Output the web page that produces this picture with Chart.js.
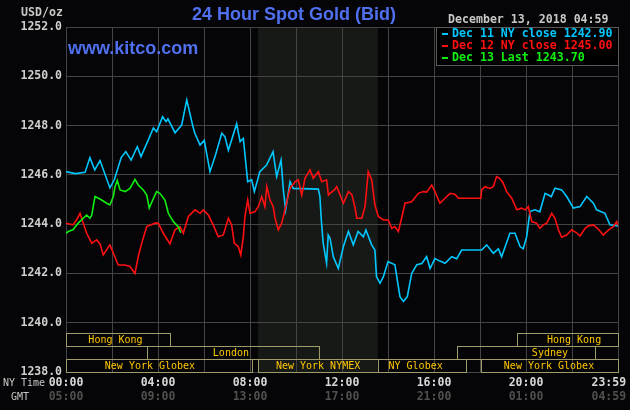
<!DOCTYPE html>
<html>
<head>
<meta charset="utf-8">
<script src="https://cdn.jsdelivr.net/npm/chart.js@4.4.0/dist/chart.umd.min.js"></script>
<style>
  html, body { margin: 0; padding: 0; background: #050406; }
  canvas { display: block; }
</style>
</head>
<body>
<canvas id="myChart" width="630" height="410"></canvas>
<script>
// prices, [hour (NY time), USD/oz]
var dec11 = [
  [0, 1246.13], [0.4, 1246.05], [0.83, 1246.1], [1.04, 1246.7], [1.25, 1246.2], [1.48, 1246.58],
  [1.91, 1245.47], [2.1, 1245.8], [2.4, 1246.7], [2.6, 1246.94], [2.83, 1246.6], [3.1, 1247.14],
  [3.26, 1246.74], [3.57, 1247.4], [3.8, 1247.9], [3.94, 1247.75], [4.2, 1248.36], [4.35, 1248.16],
  [4.43, 1248.27], [4.74, 1247.71], [5.03, 1248.02], [5.25, 1249.04], [5.52, 1247.96], [5.6, 1247.69],
  [5.83, 1247.21], [6.01, 1247.4], [6.26, 1246.13], [6.48, 1246.74], [6.77, 1247.69], [6.91, 1247.55],
  [7.06, 1247.0], [7.42, 1248.07], [7.57, 1247.35], [7.71, 1247.48], [7.9, 1245.72], [8.07, 1245.8],
  [8.19, 1245.32], [8.43, 1246.13], [8.72, 1246.4], [9.0, 1246.94], [9.16, 1245.93], [9.35, 1246.6],
  [9.45, 1245.39], [9.55, 1244.58], [9.74, 1245.72], [9.88, 1245.45], [10.97, 1245.42], [11.04, 1245.12],
  [11.1, 1244.17], [11.18, 1243.24], [11.33, 1242.42], [11.4, 1243.56], [11.48, 1243.43], [11.62, 1242.68],
  [11.84, 1242.2], [12.06, 1243.09], [12.28, 1243.7], [12.49, 1243.16], [12.7, 1243.7], [12.93, 1243.49],
  [13.04, 1243.76], [13.29, 1243.16], [13.43, 1242.95], [13.5, 1241.87], [13.65, 1241.6], [13.8, 1241.87],
  [14.0, 1242.48], [14.3, 1242.35], [14.52, 1241.06], [14.67, 1240.86], [14.84, 1241.06], [15.03, 1242.0],
  [15.25, 1242.35], [15.47, 1242.4], [15.68, 1242.68], [15.83, 1242.2], [16.04, 1242.6], [16.26, 1242.5],
  [16.48, 1242.41], [16.77, 1242.68], [16.99, 1242.6], [17.2, 1242.95], [18.07, 1242.95], [18.29, 1243.16],
  [18.58, 1242.82], [18.8, 1243.0], [18.94, 1242.68], [19.3, 1243.63], [19.52, 1243.63], [19.74, 1243.09],
  [19.88, 1243.0], [20.03, 1243.49], [20.17, 1244.51], [20.39, 1244.58], [20.6, 1244.5], [20.83, 1245.25],
  [21.1, 1245.12], [21.26, 1245.46], [21.55, 1245.39], [21.77, 1245.12], [22.06, 1244.65], [22.35, 1244.71],
  [22.64, 1245.12], [22.93, 1244.85], [23.07, 1244.58], [23.43, 1244.44], [23.65, 1243.97], [24, 1243.93]
];
var dec12 = [
  [0, 1244.04], [0.3, 1243.97], [0.46, 1244.17], [0.61, 1244.44], [0.75, 1244.04], [0.9, 1243.63],
  [1.12, 1243.22], [1.33, 1243.36], [1.48, 1243.2], [1.62, 1242.75], [1.91, 1243.16], [2.06, 1242.82],
  [2.27, 1242.34], [2.56, 1242.34], [2.78, 1242.28], [3.0, 1242.0], [3.14, 1242.68], [3.29, 1243.22],
  [3.51, 1243.9], [3.87, 1244.04], [4.01, 1244.04], [4.23, 1243.63], [4.52, 1243.2], [4.74, 1243.77],
  [4.96, 1243.9], [5.1, 1243.63], [5.32, 1244.31], [5.61, 1244.58], [5.83, 1244.44], [5.97, 1244.58],
  [6.19, 1244.37], [6.4, 1243.97], [6.62, 1243.49], [6.84, 1243.56], [7.06, 1244.24], [7.2, 1243.97],
  [7.32, 1243.22], [7.49, 1243.09], [7.6, 1242.75], [7.71, 1243.49], [7.78, 1244.31], [7.9, 1244.98],
  [8.0, 1244.44], [8.22, 1244.51], [8.36, 1244.71], [8.51, 1245.12], [8.65, 1244.71], [8.73, 1245.52],
  [8.87, 1244.98], [9.01, 1244.71], [9.09, 1244.24], [9.23, 1243.77], [9.38, 1244.04], [9.52, 1244.58],
  [9.74, 1245.46], [9.96, 1245.72], [10.1, 1245.8], [10.25, 1245.18], [10.39, 1245.86], [10.61, 1246.2],
  [10.75, 1245.86], [10.97, 1246.13], [11.12, 1245.72], [11.33, 1245.8], [11.41, 1245.18], [11.48, 1245.25],
  [11.67, 1245.39], [11.77, 1245.52], [12.06, 1244.85], [12.28, 1245.32], [12.43, 1245.2], [12.57, 1244.65],
  [12.64, 1244.24], [12.86, 1244.24], [13.0, 1244.71], [13.14, 1246.13], [13.29, 1245.8], [13.43, 1244.78],
  [13.58, 1244.31], [13.8, 1244.17], [14.01, 1244.17], [14.16, 1243.83], [14.3, 1243.9], [14.45, 1243.7],
  [14.59, 1244.24], [14.74, 1244.85], [15.03, 1244.91], [15.32, 1245.25], [15.54, 1245.32], [15.68, 1245.3],
  [15.9, 1245.59], [16.04, 1245.32], [16.26, 1244.85], [16.48, 1245.05], [16.7, 1245.25], [16.92, 1245.2],
  [17.06, 1245.05], [18.04, 1245.05], [18.07, 1245.39], [18.22, 1245.52], [18.43, 1245.45], [18.58, 1245.52],
  [18.72, 1245.93], [18.87, 1245.85], [19.01, 1245.66], [19.16, 1245.32], [19.38, 1245.05], [19.6, 1244.58],
  [19.81, 1244.65], [19.96, 1244.58], [20.1, 1244.71], [20.25, 1244.1], [20.46, 1244.04], [20.6, 1243.83],
  [20.75, 1243.97], [20.9, 1244.04], [21.12, 1244.44], [21.26, 1244.24], [21.41, 1243.77], [21.55, 1243.47],
  [21.77, 1243.56], [21.99, 1243.77], [22.2, 1243.65], [22.35, 1243.52], [22.57, 1243.83], [22.72, 1243.93],
  [22.93, 1243.97], [23.14, 1243.8], [23.36, 1243.56], [23.57, 1243.75], [23.79, 1243.9], [23.94, 1244.1],
  [24, 1243.95]
];
var dec13 = [
  [0, 1243.63], [0.1, 1243.7], [0.3, 1243.77], [0.53, 1244.04], [0.75, 1244.24], [0.9, 1244.37],
  [1.04, 1244.24], [1.12, 1244.37], [1.26, 1245.12], [1.41, 1245.05], [1.55, 1244.98], [1.77, 1244.85],
  [1.91, 1244.78], [2.06, 1245.12], [2.13, 1245.52], [2.23, 1245.77], [2.35, 1245.39], [2.57, 1245.32],
  [2.78, 1245.45], [3.0, 1245.82], [3.14, 1245.59], [3.36, 1245.39], [3.51, 1245.18], [3.62, 1244.65],
  [3.77, 1244.98], [3.94, 1245.32], [4.08, 1245.25], [4.3, 1244.98], [4.45, 1244.44], [4.67, 1244.1],
  [4.88, 1243.9], [4.99, 1243.65]
];

var seriesNames = ['Dec 11 NY close 1242.90', 'Dec 12 NY close 1245.00', 'Dec 13 Last 1243.70'];
var seriesColors = ['#00c8ff', '#ff1010', '#10f010'];

var tickHours = [0, 4, 8, 12, 16, 20, 23.6];
var nyTimeLabels = ['00:00', '04:00', '08:00', '12:00', '16:00', '20:00', '23:59'];
var gmtLabels = ['05:00', '09:00', '13:00', '17:00', '21:00', '01:00', '04:59'];

// trading sessions (hours, NY time), row 0 is the top strip
var sessions = [
  { name: 'Hong Kong', from: 0, to: 4.5, row: 0, mid: 2.15 },
  { name: 'London', from: 3.5, to: 11.0, row: 1, mid: 7.17 },
  { name: 'New York Globex', from: 0, to: 8.1, row: 2, mid: 3.65 },
  { name: 'New York NYMEX', from: 8.35, to: 13.55, row: 2, mid: 10.96 },
  { name: 'NY Globex', from: 13.55, to: 17.4, row: 2, mid: 15.2 },
  { name: 'New York Globex', from: 18.05, to: 24, row: 2, mid: 21.0 },
  { name: 'Sydney', from: 17.0, to: 23.0, row: 1, mid: 21.04 },
  { name: 'Hong Kong', from: 19.6, to: 24, row: 0, mid: 22.09 }
];
var nymexHours = [8.35, 13.55];

function toPoints(arr) {
  return arr.map(function (p) { return { x: p[0], y: p[1] }; });
}

var mono = 'DejaVu Sans Mono';

var kitcoDecor = {
  id: 'kitcoDecor',
  beforeDraw: function (chart) {
    var c = chart.ctx, a = chart.chartArea, x = chart.scales.x;
    c.save();
    c.fillStyle = '#050406';
    c.fillRect(0, 0, chart.width, chart.height);
    var x0 = x.getPixelForValue(nymexHours[0]), x1 = x.getPixelForValue(nymexHours[1]);
    c.fillStyle = '#171917';
    c.fillRect(x0, a.top, x1 - x0, a.bottom - a.top);
    c.restore();
  },
  afterDraw: function (chart) {
    var c = chart.ctx, a = chart.chartArea, x = chart.scales.x, y = chart.scales.y;
    c.save();

    // session strips
    var yb = y.getPixelForValue(1238), rowH = 13;
    c.strokeStyle = '#a09c68';
    c.lineWidth = 1;
    c.font = '10px "' + mono + '"';
    c.textAlign = 'center';
    c.textBaseline = 'middle';
    sessions.forEach(function (s) {
      var l = Math.round(x.getPixelForValue(s.from)) + 0.5;
      var r = Math.round(x.getPixelForValue(s.to)) + 0.5;
      var t = Math.round(yb - rowH * (3 - s.row)) + 0.5;
      c.strokeRect(l, t, r - l, rowH);
      c.fillStyle = '#ffc800';
      c.fillText(s.name, x.getPixelForValue(s.mid), t + rowH / 2 + 0.5);
    });

    // legend box
    var lx = 436, lh = 38;
    c.fillStyle = '#000';
    c.fillRect(lx, a.top, a.right - lx, lh);
    c.strokeStyle = '#5a5a5a';
    c.strokeRect(lx + 0.5, a.top + 0.5, a.right - lx, lh);
    c.font = 'bold 11.6px "' + mono + '"';
    c.textAlign = 'left';
    chart.data.datasets.forEach(function (ds, i) {
      var ty = a.top + 7 + i * 12;
      c.fillStyle = ds.borderColor;
      c.fillRect(lx + 6, ty - 1, 6, 2);
      c.fillText(ds.label, lx + 16, ty);
    });

    // header texts
    c.fillStyle = '#c8c8c8';
    c.fillText('December 13, 2018 04:59', 448, 20);
    c.fillText('USD/oz', 21, 13);
    c.font = '10px "' + mono + '"';
    c.fillStyle = '#c8c8c8';
    c.fillText('NY Time', 3, 383);
    c.fillText('GMT', 11, 397);

    c.fillStyle = '#5070f0';
    c.font = 'bold 18px "Liberation Sans"';
    c.textAlign = 'center';
    c.fillText('24 Hour Spot Gold (Bid)', 294, 15);
    c.textAlign = 'left';
    c.fillText('www.kitco.com', 68, 49);
    c.restore();
  }
};

function hourTicks(scale) {
  var t = [];
  for (var h = 0; h <= 24; h += 2) t.push({ value: h });
  t.push({ value: 23.6 });
  t.sort(function (p, q) { return p.value - q.value; });
  scale.ticks = t;
}

var ctx = document.getElementById('myChart').getContext('2d');
var myChart = new Chart(ctx, {
  type: 'line',
  data: {
    datasets: [
      { label: seriesNames[0], data: toPoints(dec11), borderColor: seriesColors[0], order: 2 },
      { label: seriesNames[1], data: toPoints(dec12), borderColor: seriesColors[1], order: 1 },
      { label: seriesNames[2], data: toPoints(dec13), borderColor: seriesColors[2], order: 0 }
    ]
  },
  options: {
    responsive: false,
    animation: false,
    devicePixelRatio: 1,
    layout: { padding: { top: 27, right: 12, left: 0, bottom: 0 } },
    elements: {
      point: { radius: 0 },
      line: { borderWidth: 1.6, tension: 0 }
    },
    plugins: {
      legend: { display: false },
      tooltip: { enabled: false },
      title: { display: false }
    },
    scales: {
      x: {
        type: 'linear', position: 'bottom', weight: 0,
        min: 0, max: 24,
        afterBuildTicks: hourTicks,
        afterFit: function (s) { s.height = 14; },
        grid: {
          drawTicks: false,
          color: function (c) { return c.tick && c.tick.value === 23.6 ? 'rgba(0,0,0,0)' : '#444'; }
        },
        border: { color: '#444' },
        ticks: {
          autoSkip: false, maxRotation: 0, padding: 4,
          color: '#d8d8d8',
          font: { family: mono, size: 11.5, weight: 'bold' },
          callback: function (v) { var i = tickHours.indexOf(v); return i < 0 ? '' : nyTimeLabels[i]; }
        }
      },
      x2: {
        type: 'linear', axis: 'x', position: 'bottom', weight: 1,
        min: 0, max: 24,
        afterBuildTicks: hourTicks,
        afterFit: function (s) { s.height = 24; },
        grid: { display: false, drawTicks: false },
        border: { display: false },
        ticks: {
          autoSkip: false, maxRotation: 0, padding: 4,
          color: '#505050',
          font: { family: mono, size: 11.5, weight: 'bold' },
          callback: function (v) { var i = tickHours.indexOf(v); return i < 0 ? '' : gmtLabels[i]; }
        }
      },
      y: {
        min: 1238, max: 1252,
        afterFit: function (s) { s.width = 66; },
        grid: { color: '#444', drawTicks: false },
        border: { color: '#444' },
        ticks: {
          stepSize: 2, padding: 4,
          color: '#d0d0d0',
          font: { family: mono, size: 11.5, weight: 'bold' },
          callback: function (v) { return v.toFixed(1); }
        }
      }
    }
  },
  plugins: [kitcoDecor]
});
</script>
</body>
</html>
